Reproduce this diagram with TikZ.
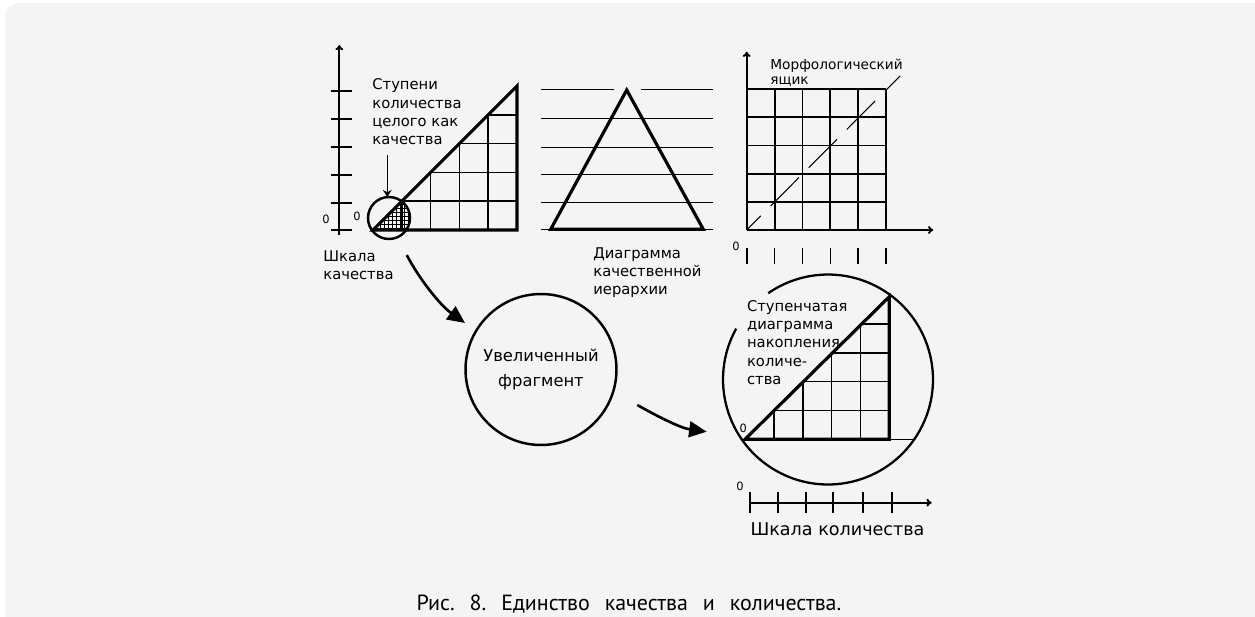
\documentclass[tikz,border=0pt]{standalone}
\usepackage{fontspec}
\setmainfont{DejaVu Sans}
\newfontfamily\capfont{PT Sans}
\usetikzlibrary{arrows.meta,positioning}
\definecolor{bggray}{RGB}{244,244,244}
\tikzset{
  lbl/.style={font=\fontsize{8.4}{10.4}\selectfont, align=left, inner sep=0pt, anchor=west},
  biglbl/.style={font=\fontsize{9.3}{14}\selectfont, align=center, inner sep=0pt},
  zerolbl/.style={font=\fontsize{6.5}{8}\selectfont, inner sep=0pt},
  axis/.style={line width=1.1pt, -{To[length=3pt,width=4.5pt]}},
  thinln/.style={line width=0.9pt},
  thickln/.style={line width=1.8pt, line join=miter},
  bigarrow/.style={line width=1.5pt, -{Triangle[length=10pt,width=9pt]}},
}
\newcommand{\capgap}{\hspace{0.68em}}
\begin{document}
\begin{tikzpicture}[x=0.02cm,y=-0.02cm]
\useasboundingbox (0,0) rectangle (1255,616);
\fill[white] (0,0) rectangle (1255,616);
\fill[bggray, rounded corners=8pt] (5,3) rectangle (1275,636);

% quality scale
\draw[axis] (339.3,235) -- (339.3,45);
\foreach \y in {91,119,147,175,203,230}
  \draw[line width=1.1pt] (330.7,\y) -- (351.7,\y);
\node[zerolbl] (zq) at (326,219) {0};
\node[zerolbl] (zc) at (357,216) {0};
\begin{scope}
  \clip (389,218) circle[radius=0.42cm];
  \clip (373,230) -- (517,86) -- (517,230) -- cycle;
  \draw[line width=0.45pt] (360,180) grid[step=0.08cm] (420,240);
\end{scope}
\foreach \i in {1,...,4} {
  \draw[thinln] (373+28.8*\i,230) -- (373+28.8*\i,230-28.8*\i);
  \draw[thinln] (373+28.8*\i,230-28.8*\i) -- (517,230-28.8*\i);
}
\draw[thickln] (373,230) -- (517,86) -- (517,230) -- cycle;
\draw[line width=1.4pt] (389,218) circle[radius=0.42cm];
\node[lbl] (steps) at (372,112) {Ступени\\количества\\целого как\\качества};
\coordinate (pin) at (387.3,155);
\coordinate (pinend) at (387.3,197);
\draw[line width=0.8pt, -{Stealth[length=4pt,width=5pt]}] (pin) -- (pinend);
\node[lbl] (qscale) at (323,265) {Шкала\\качества};

% hierarchy
\foreach \y in {118.3,147.3,174.3,202.3,229.3}
  \draw[thinln] (541,\y) -- (713.3,\y);
\draw[thinln] (541,89.3) -- (614.3,89.3) (640.7,89.3) -- (713.3,89.3);
\draw[thickln] (550.7,229.3) -- (626.7,90) -- (703.3,229.3) -- cycle;
\node[lbl] (hier) at (593,272.5) {Диаграмма\\качественной\\иерархии};

% morphological box
\foreach \i in {0,...,5} {
  \draw[line width=1.1pt] (746.7+27.9*\i,89.3) -- (746.7+27.9*\i,230);
  \draw[line width=1.1pt] (746.7,89.3+28.1*\i) -- (886,89.3+28.1*\i);
  \draw[line width=1pt] (746.7+27.9*\i,248) -- (746.7+27.9*\i,264);
}
\draw[axis] (746.7,230) -- (746.7,51.7);
\draw[axis] (746.7,230) -- (933.3,230);
\draw[line width=0.6pt, dash pattern=on 0.8cm off 0.28cm, dash phase=0.4cm] (746.7,230) -- (900,76);
\node[lbl, font=\fontsize{7.8}{8.6}\selectfont] (morph) at (770,72.5) {Морфологический\\ящик};
\node[zerolbl] (zm) at (736,246) {0};

% magnified fragment
\node[draw, circle, line width=1.4pt, minimum size=3.02cm, biglbl] (frag) at (541,369.5) {Увеличенный\\фрагмент};
\coordinate (a1) at (406.7,255);
\coordinate (b1) at (465,323);
\draw[bigarrow] (a1) .. controls (420,280) and (440,305) .. (b1);
\coordinate (a2) at (637.3,405);
\coordinate (b2) at (706.7,431.7);
\draw[bigarrow] (a2) .. controls (655,415) and (680,428) .. (b2);

% accumulation
\draw[line width=1.3pt] (828,379.5) ++(151:2.1cm) arc[start angle=151, end angle=484.7, radius=2.1cm];
\foreach \i in {1,...,4} {
  \draw[thinln] (745+28.86*\i,439.3) -- (745+28.86*\i,439.3-28.86*\i);
  \draw[thinln] (745+28.86*\i,439.3-28.86*\i) -- (889.3,439.3-28.86*\i);
}
\draw[thinln] (889.3,439.3) -- (915,439.3);
\draw[thickln] (745,439.3) -- (889.3,296.7) -- (889.3,439.3) -- cycle;
\node[zerolbl] (zs) at (743.3,428.3) {0};
\node[lbl] (steptxt) at (746.7,342.5) {Ступенчатая\\диаграмма\\накопления\\количе-\\ства};

% quantity scale
\draw[axis] (750,502.7) -- (931.7,502.7);
\foreach \x in {750,778.3,806,833.3,862.7,891.7}
  \draw[line width=1pt] (\x,491.7) -- (\x,512.7);
\node[zerolbl] (zx) at (740,486) {0};
\node[biglbl, font=\fontsize{10}{12}\selectfont] (qtyscale) at (837.5,529) {Шкала количества};

\node[font=\capfont\fontsize{12.5}{14}\selectfont] (caption) at (629,604) {Рис.\capgap 8.\capgap Единство\capgap качества\capgap и\capgap количества.};
\end{tikzpicture}
\end{document}
